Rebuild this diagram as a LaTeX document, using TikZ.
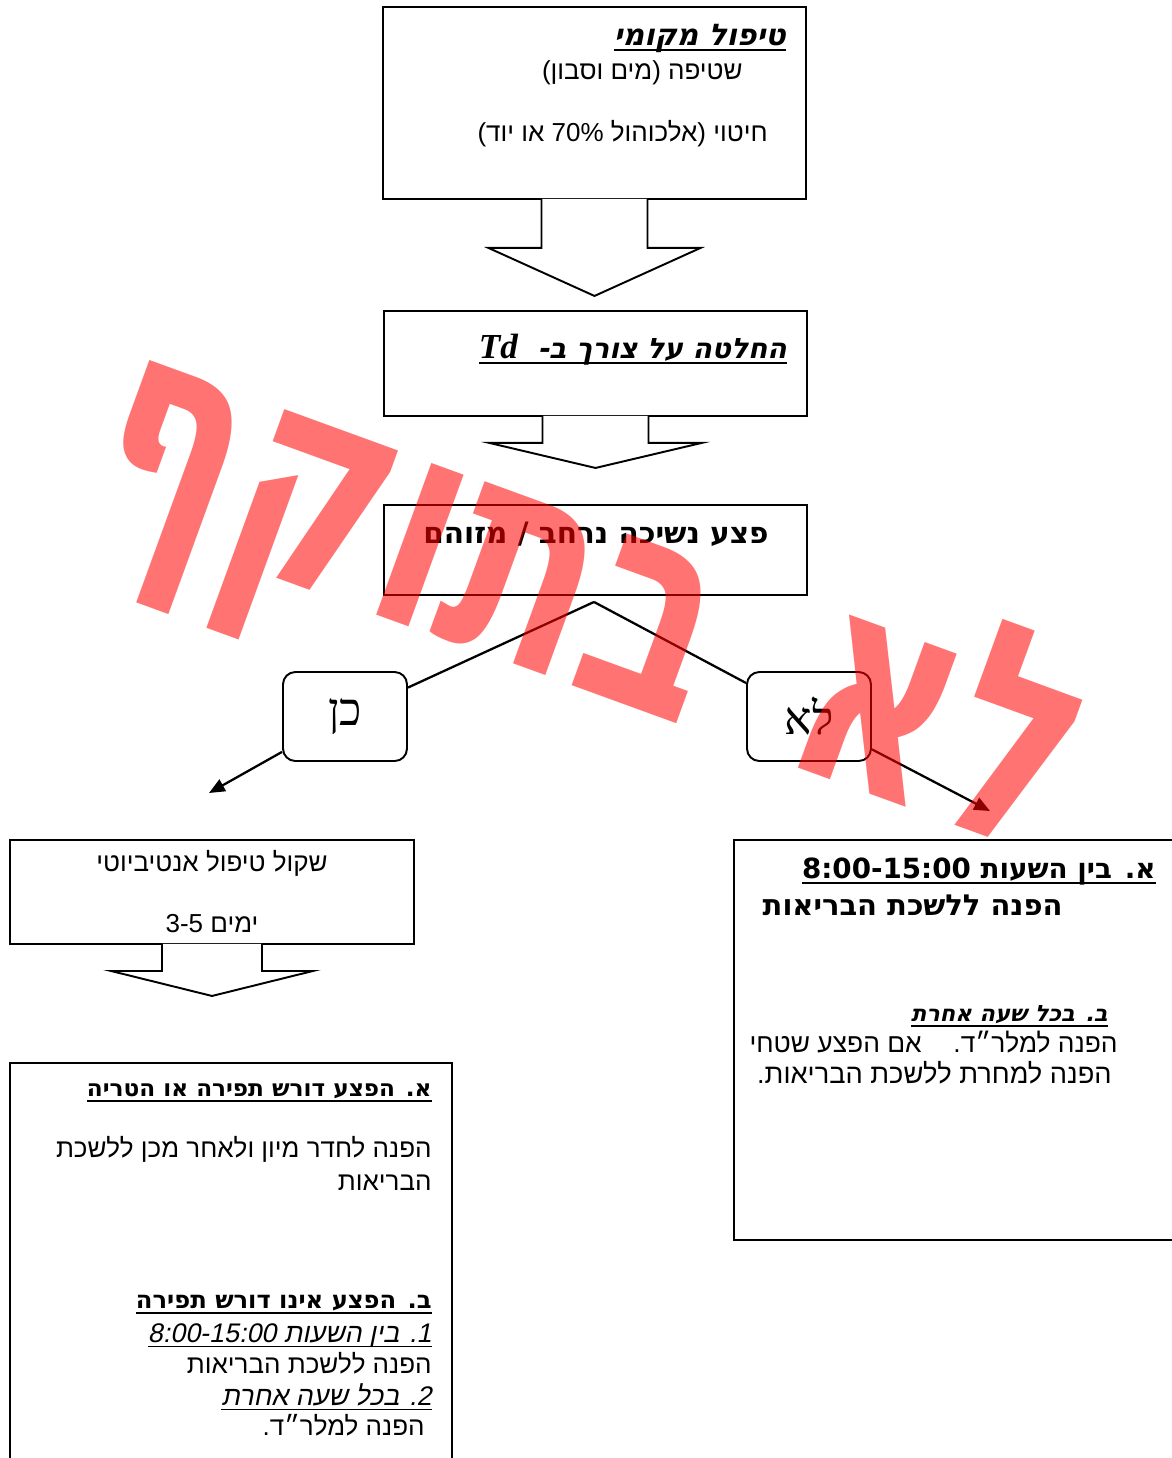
\documentclass[tikz,border=0pt]{standalone}
\usepackage{fontspec}
\usetikzlibrary{arrows.meta,calc}
\TeXXeTstate=1
\setmainfont{Liberation Sans}
\newfontfamily\hebbody[Script=Hebrew]{Liberation Sans}
\newfontfamily\hebbodyit[Script=Hebrew,FakeSlant=0.2]{Liberation Sans}
\newfontfamily\hebhead[Script=Hebrew]{DejaVu Sans}
\newfontfamily\hebheadit[Script=Hebrew,FakeSlant=0.2]{DejaVu Sans}
\newfontfamily\hebserif[Script=Hebrew]{Liberation Serif}
\newfontfamily\latserif{Liberation Serif}
\newfontfamily\hebstamp[Script=Hebrew,FakeStretch=0.72]{DejaVu Sans}
\newcommand{\heb}[1]{\beginR #1\endR}
\newsavebox{\ulbox}
\newcommand{\undl}[2][1.2pt]{\sbox{\ulbox}{#2}\dp\ulbox=0pt\vtop{\copy\ulbox\kern2pt\hrule height #1}}

\begin{document}
\begin{tikzpicture}[x=0.02cm, y=-0.02cm,
  >={Triangle[length=9pt, width=7.5pt]},
  every node/.style={inner sep=0pt},
  frame/.style   = {draw, line width=1.1pt},
  answer/.style  = {frame, rounded corners=7pt, minimum width=2.48cm, minimum height=1.78cm,
                    font=\hebserif\fontsize{26}{30}\selectfont},
  tail/.style    = {draw, fill=white, line width=1.1pt},
  link/.style    = {line width=1.3pt},
  txt/.style     = {font=\hebbody\fontsize{#1}{#1}\selectfont},
  txt/.default   = 14.8,
  txtit/.style   = {font=\hebbodyit\fontsize{#1}{#1}\selectfont},
  txtit/.default = 15.3,
  hd/.style      = {font=\hebhead\bfseries\fontsize{#1}{#1}\selectfont},
  hd/.default    = 13.5,
  hdit/.style    = {font=\hebheadit\bfseries\fontsize{#1}{#1}\selectfont},
  hdit/.default  = 12.8,
  stamp/.style   = {font=\hebstamp\bfseries\fontsize{168}{168}\selectfont,
                    text=red, text opacity=0.55}
]
\useasboundingbox (0,0) rectangle (1172,1458);
\clip (0,0) rectangle (1172,1458);

% frames
\node[frame, minimum width=8.46cm, minimum height=3.84cm] (local) at (594.5,103) {};
\node[frame, minimum width=8.46cm, minimum height=2.10cm] (tdneed) at (595.5,363.5) {};
\node[frame, minimum width=8.46cm, minimum height=1.80cm] (wound) at (595.5,550) {};
\node[answer] (ken) at (345,716.5) {\heb{כן}};
\node[answer] (lo) at (809,716.5) {\heb{לא}};
\node[frame, minimum width=8.08cm, minimum height=2.08cm] (abx) at (212,892) {};
\node[frame, minimum width=8.84cm, minimum height=8.34cm] (hosp) at (231,1271.5) {};
\node[frame, minimum width=9.02cm, minimum height=8.00cm] (office) at (959.5,1040) {};

% block arrows under the frames
\draw[tail] ($(local.south)+(-53,-1)$) -- ++(0,49) -- ++(-53,0) -- ++(106,48)
  -- ++(106,-48) -- ++(-53,0) -- ++(0,-49);
\draw[tail] ($(tdneed.south)+(-53,-1)$) -- ++(0,27) -- ++(-53,0) -- ++(106,25)
  -- ++(106,-25) -- ++(-53,0) -- ++(0,-27);
\draw[tail] ($(abx.south)+(-50,-1)$) -- ++(0,27) -- ++(-51,0) -- ++(101,25)
  -- ++(101,-25) -- ++(-51,0) -- ++(0,-27);

% local treatment
\node[hdit=17, anchor=base east] (localttl) at (786,45) {\undl[1.5pt]{\heb{טיפול מקומי}}};
\node[txt, anchor=base east] (wash) at (743,79) {\heb{שטיפה (מים וסבון)}};
\node[txt, anchor=base east] (disinf) at (768,141) {\heb{חיטוי (אלכוהול 70\% או יוד)}};

% Td decision
\node[hdit=16, anchor=base east] (tdttl) at (787,358)
  {\undl[1.5pt]{\heb{החלטה על צורך ב- \ \beginL{\latserif\bfseries\itshape\fontsize{20}{20}\selectfont Td}\endL}}};

% wound
\node[hd=16.8, anchor=base] (woundttl) at (596,543) {\heb{פצע נשיכה נרחב / מזוהם}};

% antibiotics
\node[txt, anchor=base] (abxa) at (212,871) {\heb{שקול טיפול אנטיביוטי}};
\node[txt, anchor=base] (abxb) at (212,932) {\heb{ימים \beginL 3-5\endL}};

% yes branch
\node[hd=13.2, anchor=base east] (hospa) at (432,1096) {\undl{\heb{א. הפצע דורש תפירה או הטריה}}};
\node[txt, anchor=base east] (hospb) at (432,1157) {\heb{הפנה לחדר מיון ולאחר מכן ללשכת}};
\node[txt, anchor=base east] (hospc) at (432,1190) {\heb{הבריאות}};
\node[hd=13.8, anchor=base east] (hospd) at (432,1308) {\undl{\heb{ב. הפצע אינו דורש תפירה}}};
\node[txtit, anchor=base east] (hospe) at (432,1342)
  {\undl[0.9pt]{\heb{1. בין השעות \beginL 8:00-15:00\endL}}};
\node[txt, anchor=base east] (hospf) at (432,1373) {\heb{הפנה ללשכת הבריאות}};
\node[txtit, anchor=base east] (hospg) at (432,1405) {\undl[0.9pt]{\heb{2. בכל שעה אחרת}}};
\node[txt, anchor=base east] (hosph) at (425,1435) {\heb{הפנה למלר״ד.}};

% no branch
\node[hd=15.8, anchor=base east] (officea) at (1156,878)
  {\undl[1.6pt]{\heb{א. בין השעות \beginL 8:00-15:00\endL}}};
\node[hd=16.5, anchor=base east] (officeb) at (1063,915) {\heb{הפנה ללשכת הבריאות}};
\node[hdit, anchor=base east] (officec) at (1108,1021) {\undl{\heb{ב. בכל שעה אחרת}}};
\node[txt=15, anchor=base east] (officed) at (1118,1052) {\heb{הפנה למלר״ד. \ \ \ אם הפצע שטחי}};
\node[txt=15.5, anchor=base east] (officee) at (1112,1083) {\heb{הפנה למחרת ללשכת הבריאות.}};

% connectors
\coordinate (split) at ($(wound.south)+(-1.5,6)$);
\draw[link] (split) -- (ken);
\draw[link] (split) -- (lo);
\coordinate (kentip) at (209,793);
\coordinate (lotip) at (990,811);
\draw[link,->] (ken) -- (kentip);
\draw[link,->] (lo) -- (lotip);

% watermark
\node[stamp, rotate=-20] (notvalid) at (584,616) {\heb{לא\hspace{0.08em} בתוקף}};
\end{tikzpicture}
\end{document}
